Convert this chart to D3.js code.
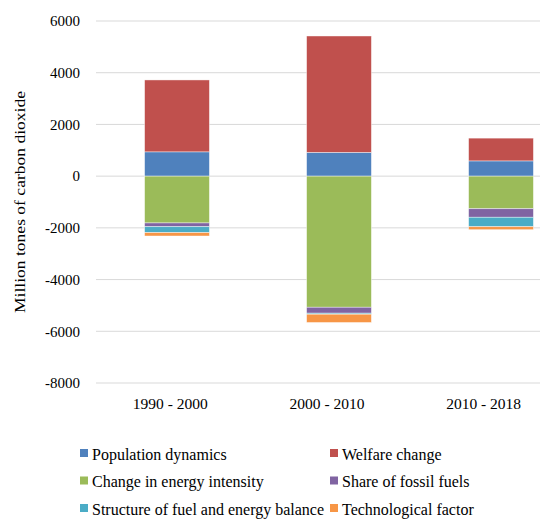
<!DOCTYPE html>
<html>
<head>
<meta charset="utf-8">
<script src="https://cdn.jsdelivr.net/npm/d3@7"></script>
<style>
  body { margin: 0; background: #fff; }
  svg text { font-family: "Liberation Serif", "DejaVu Serif", serif; fill: #000; }
</style>
</head>
<body>
<svg id="chart" width="540" height="520"></svg>
<script>
// data
const periods = ['1990 - 2000', '2000 - 2010', '2010 - 2018'];
const factors = ['Population dynamics', 'Welfare change', 'Change in energy intensity',
                 'Share of fossil fuels', 'Structure of fuel and energy balance', 'Technological factor'];
const population = [940, 920, 590];
const welfare = [2780, 4500, 880];
const energyIntensity = [-1810, -5070, -1260];
const fossilShare = [-145, -230, -330];
const fuelStructure = [-230, -40, -365];
const technology = [-130, -320, -115];
const yTicks = [6000, 4000, 2000, 0, -2000, -4000, -6000, -8000];
const colors = ['#4F81BD', '#C0504D', '#9BBB59', '#8064A2', '#4BACC6', '#F79646'];

const series = [population, welfare, energyIntensity, fossilShare, fuelStructure, technology];

const svg = d3.select('#chart').attr('font-family', 'Liberation Serif, serif');
const margin = {t: 21, l: 96, r: -42};
const plotH = 383 - 21;

const x = d3.scaleBand().domain(periods).range([margin.l, 540 - margin.r]).paddingInner(0.6).paddingOuter(0.3);
const xLab = d3.scalePoint().domain(periods).range([92, 562]).padding(0.5);
const y = d3.scaleLinear().domain([-8000, 6000]).range([margin.t + plotH, margin.t]);

// gridlines
svg.append('g').selectAll('line').data(yTicks).join('line')
  .attr('x1', margin.l).attr('x2', 540)
  .attr('y1', d => y(d)).attr('y2', d => y(d))
  .attr('stroke', '#d9d9d9').attr('stroke-width', 1);

// y tick labels
svg.append('g').selectAll('text').data(yTicks).join('text')
  .attr('x', 80).attr('y', d => y(d)).attr('dy', '0.35em')
  .attr('text-anchor', 'end').style('font-size', '15px')
  .text(d => d);

// stacking: positives go up, negatives go down, in series order
const rects = [];
periods.forEach((p, i) => {
  let pos = 0, neg = 0;
  series.forEach((s, k) => {
    const v = s[i];
    let y0, y1;
    if (v >= 0) { y0 = pos; y1 = pos + v; pos = y1; }
    else { y0 = neg; y1 = neg + v; neg = y1; }
    rects.push({p, k, y0, y1});
  });
});

svg.append('g').selectAll('rect').data(rects).join('rect')
  .attr('x', d => x(d.p))
  .attr('width', x.bandwidth())
  .attr('y', d => y(Math.max(d.y0, d.y1)))
  .attr('height', d => Math.abs(y(d.y0) - y(d.y1)))
  .attr('fill', d => colors[d.k])
  .attr('stroke', '#fff').attr('stroke-opacity', 0.6).attr('stroke-width', 0.7);

// category labels
svg.append('g').selectAll('text').data(periods).join('text')
  .attr('x', d => xLab(d)).attr('y', 404).attr('dy', '0.35em')
  .attr('text-anchor', 'middle').style('font-size', '15.5px')
  .text(d => d);

// y axis title
svg.append('text')
  .attr('transform', 'translate(20,202) rotate(-90) scale(1.17,1)')
  .attr('text-anchor', 'middle').attr('dy', '0.35em')
  .style('font-size', '15px')
  .text('Million tones of carbon dioxide');

// legend
const legend = svg.append('g').selectAll('g').data(factors).join('g')
  .attr('transform', (d, i) => `translate(${i % 2 ? 330 : 80},${454 + Math.floor(i / 2) * 27.5})`);
legend.append('rect').attr('x', 0).attr('y', -5).attr('width', 8).attr('height', 8)
  .attr('fill', (d, i) => colors[i]);
legend.append('text').attr('x', 12).attr('dy', '0.35em').style('font-size', '16px')
  .text(d => d);
</script>
</body>
</html>
